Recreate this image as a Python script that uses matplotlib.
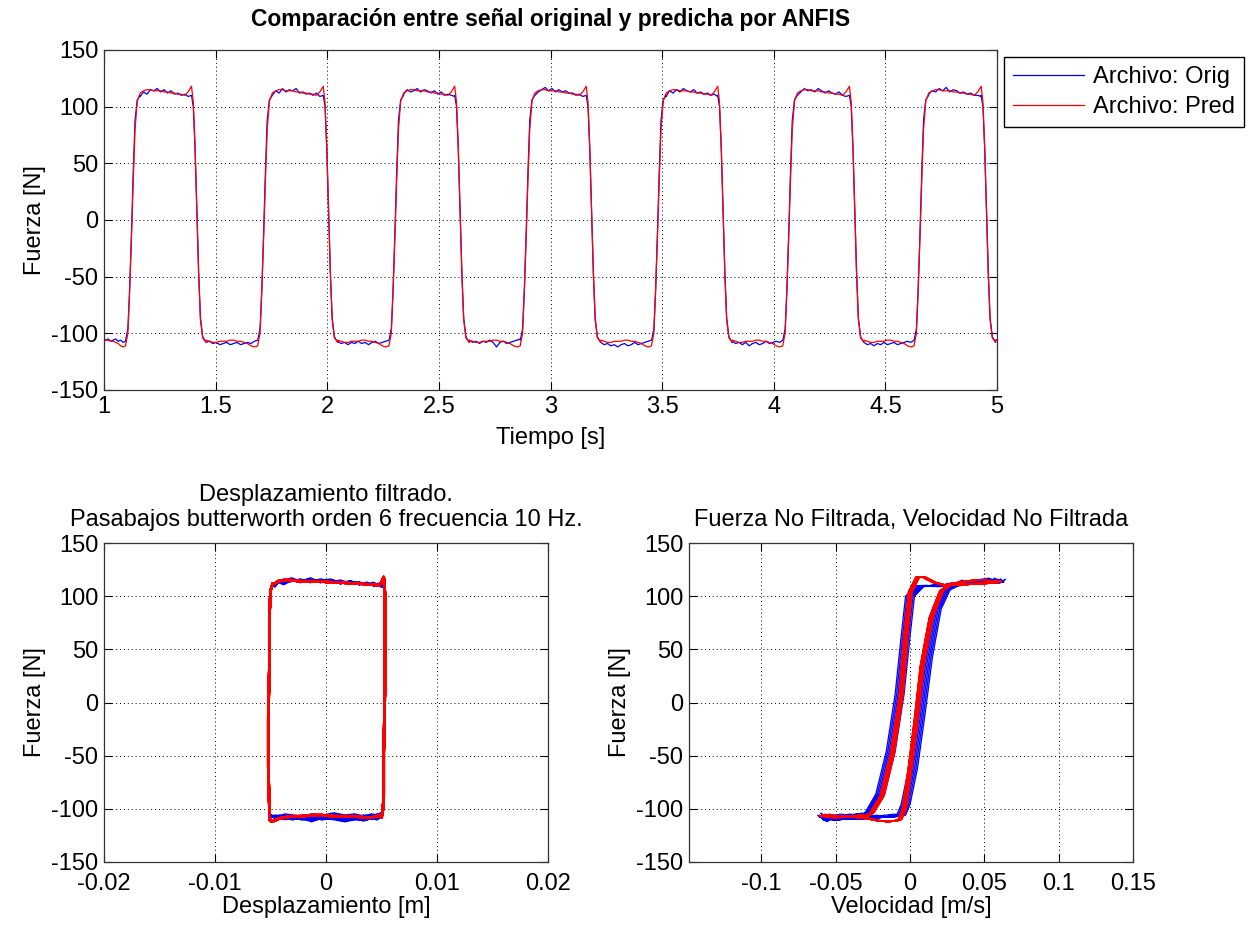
import numpy as np
import matplotlib
matplotlib.use('Agg')
import matplotlib.pyplot as plt

plt.rcParams['font.family'] = ['Liberation Sans', 'DejaVu Sans']
plt.rcParams['axes.unicode_minus'] = False

# ---------------- data ----------------
# start time of every rising / falling edge [s]
rise_t = [1.097, 1.689, 2.277, 2.865, 3.453, 4.041, 4.629]
fall_t = [1.392, 1.982, 2.571, 3.160, 3.749, 4.339, 4.929]
first_low_t = 0.93
last_low_t = 5.25

# edge shape (time offset from edge start)
edge_dt = [0.0, 0.010, 0.018, 0.026, 0.034, 0.042, 0.052, 0.065]
fall_dt = [0.0, 0.008, 0.016, 0.024, 0.032, 0.040, 0.050, 0.065]
orig_rise = [-106, -96, -62, -12, 42, 88, 106, 110]
pred_rise = [-110, -100, -60, -15, 35, 80, 105, 112]
orig_fall = [110, 100, 62, 8, -46, -86, -103, -108]
pred_fall = [118, 104, 64, 8, -48, -88, -104, -108]

# plateaus, Archivo: Orig (one list per plateau)
orig_high = [
    [109, 113, 111, 115, 114, 116, 113, 115, 112, 114, 111, 112, 110, 111, 109, 110],
    [110, 114, 112, 116, 113, 115, 114, 116, 112, 113, 111, 112, 110, 112, 109, 110],
    [111, 115, 113, 114, 116, 113, 115, 114, 112, 114, 111, 113, 110, 111, 110, 109],
    [110, 113, 115, 117, 114, 116, 113, 115, 113, 114, 112, 112, 110, 111, 109, 110],
    [109, 114, 112, 115, 113, 116, 114, 113, 115, 112, 113, 111, 112, 110, 111, 109],
    [110, 113, 116, 114, 115, 113, 116, 114, 112, 114, 112, 111, 113, 110, 109, 110],
    [111, 114, 113, 116, 114, 117, 113, 115, 114, 112, 113, 111, 112, 110, 110, 109],
]
orig_low = [
    [-104, -106, -105, -107, -105, -106, -104, -106, -105, -107, -106, -105, -107, -106, -108, -107],
    [-108, -107, -109, -108, -110, -109, -108, -110, -109, -108, -110, -109, -108, -109, -107, -106],
    [-107, -109, -108, -110, -108, -109, -107, -109, -108, -110, -108, -107, -109, -108, -107, -106],
    [-106, -108, -107, -109, -107, -108, -106, -108, -112, -108, -107, -109, -108, -107, -106, -105],
    [-108, -110, -109, -111, -110, -112, -110, -109, -111, -110, -108, -110, -109, -108, -107, -106],
    [-107, -109, -108, -110, -108, -111, -109, -108, -110, -109, -107, -109, -108, -107, -108, -106],
    [-108, -110, -109, -111, -109, -110, -108, -110, -109, -108, -110, -109, -108, -107, -108, -106],
    [-106, -105, -107, -106, -108, -107, -106, -108, -107, -106, -108, -107, -106, -107, -108, -107],
]
# plateaus, Archivo: Pred (same shape every cycle)
pred_high = [112, 114, 115, 115, 114, 114, 114, 113, 113, 112, 112, 111, 111, 110, 113, 118]
pred_low = [-106, -107, -108, -108, -107, -107, -107, -106, -106, -107, -107, -108, -109, -111, -112, -111]

# filtered displacement [m] along each segment
x_rise = [-0.0051, -0.0051, -0.0052, -0.0052, -0.0051, -0.0051, -0.0050, -0.0048]
x_high = [-0.0046, -0.0043, -0.0038, -0.0031, -0.0023, -0.0014, -0.0005, 0.0004,
          0.0013, 0.0022, 0.0030, 0.0037, 0.0043, 0.0047, 0.0050, 0.0052]
x_fall = [0.0052, 0.0053, 0.0053, 0.0053, 0.0052, 0.0052, 0.0051, 0.0050]
x_low = [0.0049, 0.0046, 0.0041, 0.0034, 0.0026, 0.0017, 0.0007, -0.0003,
         -0.0013, -0.0022, -0.0030, -0.0037, -0.0042, -0.0046, -0.0049, -0.0050]

# velocity [m/s] along each segment
v_orig_rise = [-0.007, -0.004, 0.001, 0.006, 0.011, 0.017, 0.023, 0.029]
v_pred_rise = [-0.007, -0.004, 0.000, 0.004, 0.008, 0.014, 0.021, 0.028]
v_high = [0.030, 0.037, 0.044, 0.050, 0.055, 0.058, 0.060, 0.059,
          0.056, 0.051, 0.045, 0.038, 0.031, 0.024, 0.016, 0.009]
v_orig_fall = [0.006, -0.001, -0.004, -0.008, -0.014, -0.021, -0.028, -0.033]
v_pred_fall = [0.005, 0.000, -0.003, -0.006, -0.012, -0.019, -0.026, -0.031]
v_low = [-0.032, -0.040, -0.047, -0.053, -0.057, -0.059, -0.060, -0.058,
         -0.054, -0.049, -0.043, -0.036, -0.029, -0.022, -0.015, -0.009]
# cycle-to-cycle shift of the velocity loops
orig_dv = [0.000, 0.002, -0.002, 0.003, 0.001, 0.004, -0.001]
pred_dv = [0.000, 0.001, -0.001, 0.0005, 0.0015, -0.001, 0.0005]

yticks = [-150, -100, -50, 0, 50, 100, 150]
xt_top = [1, 1.5, 2, 2.5, 3, 3.5, 4, 4.5, 5]
xt_bl = [-0.02, -0.01, 0, 0.01, 0.02]
xt_br = [-0.1, -0.05, 0, 0.05, 0.1, 0.15]


def build(kind):
    rise_f = orig_rise if kind == 'orig' else pred_rise
    fall_f = orig_fall if kind == 'orig' else pred_fall
    v_rise = v_orig_rise if kind == 'orig' else v_pred_rise
    v_fall = v_orig_fall if kind == 'orig' else v_pred_fall
    dvs = orig_dv if kind == 'orig' else pred_dv
    T, F, X, V = [], [], [], []

    def low(i, t0, t1, dv):
        vals = orig_low[i] if kind == 'orig' else pred_low
        T.extend(np.linspace(t0, t1, len(vals)))
        F.extend(vals)
        X.extend(x_low)
        V.extend(np.array(v_low) + dv)

    low(0, first_low_t, rise_t[0], 0.0)
    for k in range(len(rise_t)):
        dv = dvs[k]
        T.extend(np.array(edge_dt) + rise_t[k])
        F.extend(rise_f)
        X.extend(x_rise)
        V.extend(np.array(v_rise) + dv)
        hv = orig_high[k] if kind == 'orig' else pred_high
        T.extend(np.linspace(rise_t[k] + edge_dt[-1], fall_t[k], len(hv)))
        F.extend(hv)
        X.extend(x_high)
        V.extend(np.array(v_high) + dv)
        T.extend(np.array(fall_dt) + fall_t[k])
        F.extend(fall_f)
        X.extend(x_fall)
        V.extend(np.array(v_fall) + dv)
        t_next = rise_t[k + 1] if k + 1 < len(rise_t) else last_low_t
        low(k + 1, fall_t[k] + fall_dt[-1], t_next, dv)
    return np.array(T), np.array(F), np.array(X), np.array(V)


t_o, f_o, x_o, v_o = build('orig')
t_p, f_p, x_p, v_p = build('pred')

W, H = 1252, 927
FS = 17
fig = plt.figure(figsize=(W / 100, H / 100), dpi=100)


def ax_px(left, top, right, bottom):
    return fig.add_axes([left / W, 1 - bottom / H, (right - left) / W, (bottom - top) / H])


def style(ax, xticks, xlim, xpad):
    ax.set_xlim(xlim)
    ax.set_ylim(-150, 150)
    ax.set_xticks(xticks)
    ax.set_xticklabels(['%g' % v for v in xticks])
    ax.set_yticks(yticks)
    ax.set_yticklabels(['%g' % v for v in yticks])
    ax.tick_params(direction='in', length=6, width=0.8, top=True, right=True,
                   labelsize=FS, colors='black')
    ax.tick_params(axis='x', pad=xpad)
    ax.tick_params(axis='y', pad=4)
    ax.grid(True, linestyle=(0, (1, 3)), color='black', linewidth=0.7)
    for s in ax.spines.values():
        s.set_linewidth(0.9)
        s.set_color('#333333')
    ax.set_ylabel('Fuerza [N]', fontsize=FS, labelpad=4)


blue = '#0000ff'
red = '#ff0000'

ax1 = ax_px(104, 50, 997, 390)
l1, = ax1.plot(t_o, f_o, color=blue, lw=0.9, label='Archivo: Orig')
l2, = ax1.plot(t_p, f_p, color=red, lw=0.9, label='Archivo: Pred')
style(ax1, xt_top, (1, 5), 4)
ax1.set_xlabel('Tiempo [s]', fontsize=FS, labelpad=7)
ax1.set_title('Comparación entre señal original y predicha por ANFIS',
              fontsize=16.5, fontweight='bold', pad=17)
fig.legend(handles=[l1, l2], loc='upper left', bbox_to_anchor=(1004 / W, 1 - 57 / H),
           bbox_transform=fig.transFigure, borderaxespad=0, fancybox=False,
           edgecolor='black', fontsize=FS, handlelength=3.0, handletextpad=0.35,
           borderpad=0.4, labelspacing=0.32, framealpha=1)

ax2 = ax_px(104, 543, 548, 862)
ax2.plot(x_o, f_o, color=blue, lw=1.3)
ax2.plot(x_p, f_p, color=red, lw=1.9)
style(ax2, xt_bl, (-0.02, 0.02), 8)
ax2.set_xlabel('Desplazamiento [m]', fontsize=FS, labelpad=1)
ax2.set_title('Desplazamiento filtrado.\nPasabajos butterworth orden 6 frecuencia 10 Hz.',
              fontsize=FS, pad=12, linespacing=1.2)

ax3 = ax_px(689, 543, 1133, 862)
ax3.plot(v_o, f_o, color=blue, lw=0.9)
ax3.plot(v_p, f_p, color=red, lw=1.1)
style(ax3, xt_br, (-0.1487, 0.15), 8)
ax3.set_xlabel('Velocidad [m/s]', fontsize=FS, labelpad=1)
ax3.set_title('Fuerza No Filtrada, Velocidad No Filtrada', fontsize=FS, pad=12)

fig.savefig('out.png', dpi=100)
